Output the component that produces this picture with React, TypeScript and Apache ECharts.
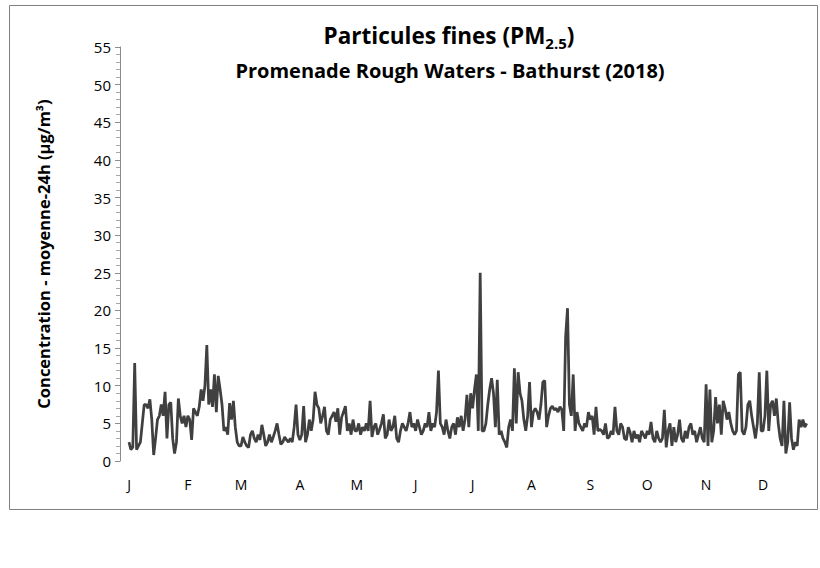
import React, { useEffect, useRef } from "react";
import * as echarts from "echarts";

const monthLabels = ["J", "F", "M", "A", "M", "J", "J", "A", "S", "O", "N", "D"];
const daysPerMonth = [31, 28, 31, 30, 31, 30, 31, 31, 30, 31, 30, 31];

const jan = [2.5, 1.5, 1.8, 13, 1.5, 2, 2.5, 5, 7.5, 7.5, 7, 8.2, 5.5, 0.8, 3, 5.5, 6, 7.5, 6, 9.2, 3, 7.5, 7.8, 3, 1, 2.5, 8.3, 6, 5, 6, 4.5];
const feb = [6, 5.5, 2.8, 7, 6.5, 6, 7.2, 9.5, 8, 10, 15.4, 7.5, 9.5, 7.2, 11.5, 6.5, 11.3, 9.5, 7.5, 4, 4.5, 3.5, 7.7, 5.5, 8, 4.5, 2.5, 2];
const mar = [2, 3.2, 2.5, 2, 1.8, 3.5, 4, 3, 2.5, 3.5, 2.8, 4.8, 3.5, 2, 2.5, 3.5, 2.5, 3.2, 4, 5, 3.5, 2.2, 2.5, 3.2, 2.8, 2.5, 3, 2.5, 4.5, 7.5, 3.5];
const apr = [2.8, 3.5, 7.3, 2.5, 3.5, 5.5, 4, 5.5, 9.2, 7.5, 7, 5, 6, 7.2, 4, 3.5, 5.5, 6, 6.5, 5.2, 7, 3.5, 5.8, 6.5, 7.3, 4, 5, 3.5, 5.5, 4];
const may = [4, 5, 3.5, 4.5, 4, 5, 4, 8, 3.2, 4.5, 5, 3.5, 4.2, 5, 6.2, 3, 3.5, 5.5, 4, 4.5, 6, 3, 2.5, 4, 5, 4.5, 4, 5, 6.5, 4.5, 5];
const jun = [4, 5.5, 4.5, 3.5, 4, 5, 4.5, 6.5, 4, 5, 4.5, 6.5, 12, 5, 4.5, 3.5, 5.5, 4, 3, 4.5, 5, 3.5, 5.8, 4.5, 6, 4, 5.5, 8.8, 4.5, 9];
const jul = [7, 9.5, 11.5, 4, 25, 4, 4, 5, 7.5, 9.5, 11, 9, 4.5, 10.8, 3.5, 4, 3, 2.5, 1.8, 4.5, 5.5, 4, 12.3, 5, 11.8, 9, 8, 5.5, 4, 6, 10.5];
const aug = [4.5, 6.5, 7, 6.5, 5.5, 7.5, 10.5, 10.7, 4.5, 6, 7, 7.3, 6.8, 7, 6.5, 7.2, 6.8, 4, 16.5, 20.3, 7.5, 6, 11.5, 4, 6.5, 5, 4.5, 4, 5, 4.5, 6.5];
const sep = [5.5, 6, 3.5, 7.2, 4, 4.2, 4, 3.5, 5, 3, 3.2, 4, 3.5, 7.2, 4, 3.5, 5, 4.5, 3, 2.8, 4.5, 3.8, 2.5, 4, 3, 3.5, 2.5, 4, 3.5, 3];
const oct = [4, 3.5, 5.2, 3, 2.5, 4, 3, 2.5, 3, 6.8, 1.8, 4, 5, 2, 4.5, 2.5, 3.5, 5.5, 3, 2.5, 4, 3, 4.5, 5, 3.5, 4, 2.5, 3.5, 4.5, 3, 2.5];
const nov = [10.2, 2, 9.5, 2.5, 4, 8.5, 5, 7.5, 3.5, 8, 7, 5.5, 6.5, 5, 4, 3.5, 4, 11.5, 11.8, 4, 3.5, 4.5, 7.5, 8, 6, 4.5, 3, 5, 11.8, 4];
// Last days of December have no measurement in the source chart.
const dec: (number | null)[] = [4, 6, 12, 4, 7.5, 8, 6, 8.3, 5, 3, 2, 8, 1, 2.5, 7.8, 3, 1.5, 2.5, 2, 5.5, 4.5, 5.5, 4.5, 5, null, null, null, null, null, null, null];

const monthly: (number | null)[][] = [jan, feb, mar, apr, may, jun, jul, aug, sep, oct, nov, dec];

const yTicks = [0, 5, 10, 15, 20, 25, 30, 35, 40, 45, 50, 55];

const titleLine1 = "Particules fines (PM";
const titleSub = "2.5";
const titleLine2 = "Promenade Rough Waters - Bathurst (2018)";
const yAxisName = "Concentration - moyenne-24h (µg/m³)";

export default function App() {
  const ref = useRef<HTMLDivElement>(null);

  useEffect(() => {
    document.body.style.margin = "0";
    if (!ref.current) return;
    const chart = echarts.init(ref.current, null, { renderer: "svg" });

    const dates: string[] = [];
    const values: (number | null)[] = [];
    const monthOfIndex: number[] = [];
    const isMonthStart: boolean[] = [];
    monthly.forEach((arr, m) => {
      for (let d = 0; d < daysPerMonth[m]; d++) {
        const mm = String(m + 1).padStart(2, "0");
        const dd = String(d + 1).padStart(2, "0");
        dates.push(`2018-${mm}-${dd}`);
        values.push(arr[d] === undefined ? null : arr[d]);
        monthOfIndex.push(m);
        isMonthStart.push(d === 0);
      }
    });

    chart.setOption({
      animation: false,
      backgroundColor: "#ffffff",
      grid: { left: 129, width: 697, top: 47, bottom: 107 },
      xAxis: {
        type: "category",
        data: dates,
        boundaryGap: false,
        axisLine: { show: false },
        axisTick: { show: false },
        splitLine: { show: false },
        axisLabel: {
          interval: (index: number) => isMonthStart[index],
          formatter: (_v: string, index: number) => monthLabels[monthOfIndex[index]],
          fontFamily: "Open Sans",
          fontSize: 14,
          color: "#000",
          margin: 16,
          hideOverlap: false,
        },
      },
      yAxis: {
        type: "value",
        min: yTicks[0],
        max: yTicks[yTicks.length - 1],
        interval: 5,
        offset: 9,
        name: yAxisName,
        nameLocation: "middle",
        nameRotate: 90,
        nameGap: 68,
        nameTextStyle: { fontFamily: "Open Sans", fontWeight: "bold", fontSize: 16.5, color: "#000" },
        axisLine: { show: true, lineStyle: { color: "#8c8c8c", width: 1 } },
        axisTick: { show: true, length: 5, lineStyle: { color: "#8c8c8c" } },
        minorTick: { show: true, splitNumber: 5, length: 4, lineStyle: { color: "#a6a6a6" } },
        splitLine: { show: false },
        axisLabel: { fontFamily: "Open Sans", fontSize: 15, color: "#000", margin: 9 },
      },
      series: [
        {
          type: "line",
          data: values,
          showSymbol: false,
          symbol: "none",
          connectNulls: false,
          lineStyle: { color: "#404040", width: 2.75 },
          itemStyle: { color: "#404040" },
        },
      ],
      graphic: [
        {
          type: "rect",
          shape: { x: 9.5, y: 5.5, width: 808, height: 504 },
          style: { fill: "none", stroke: "#7f7f7f", lineWidth: 1 },
          silent: true,
          z: 0,
        },
        {
          type: "text",
          x: 449,
          y: 35,
          silent: true,
          style: {
            text: `{a|${titleLine1}}{s|${titleSub}}{a|)}`,
            align: "center",
            verticalAlign: "middle",
            rich: {
              a: { fontFamily: "Open Sans", fontWeight: "bold", fontSize: 22.5, fill: "#000", lineHeight: 30 },
              s: { fontFamily: "Open Sans", fontWeight: "bold", fontSize: 15, fill: "#000", verticalAlign: "bottom", lineHeight: 30, padding: [13, 0, 0, 0] },
            },
          },
        },
        {
          type: "text",
          x: 450,
          y: 70,
          silent: true,
          style: {
            text: titleLine2,
            align: "center",
            verticalAlign: "middle",
            fontFamily: "Open Sans",
            fontWeight: "bold",
            fontSize: 20,
            fill: "#000",
          },
        },
      ],
    });

    return () => chart.dispose();
  }, []);

  return <div ref={ref} style={{ width: 820, height: 568 }} />;
}
